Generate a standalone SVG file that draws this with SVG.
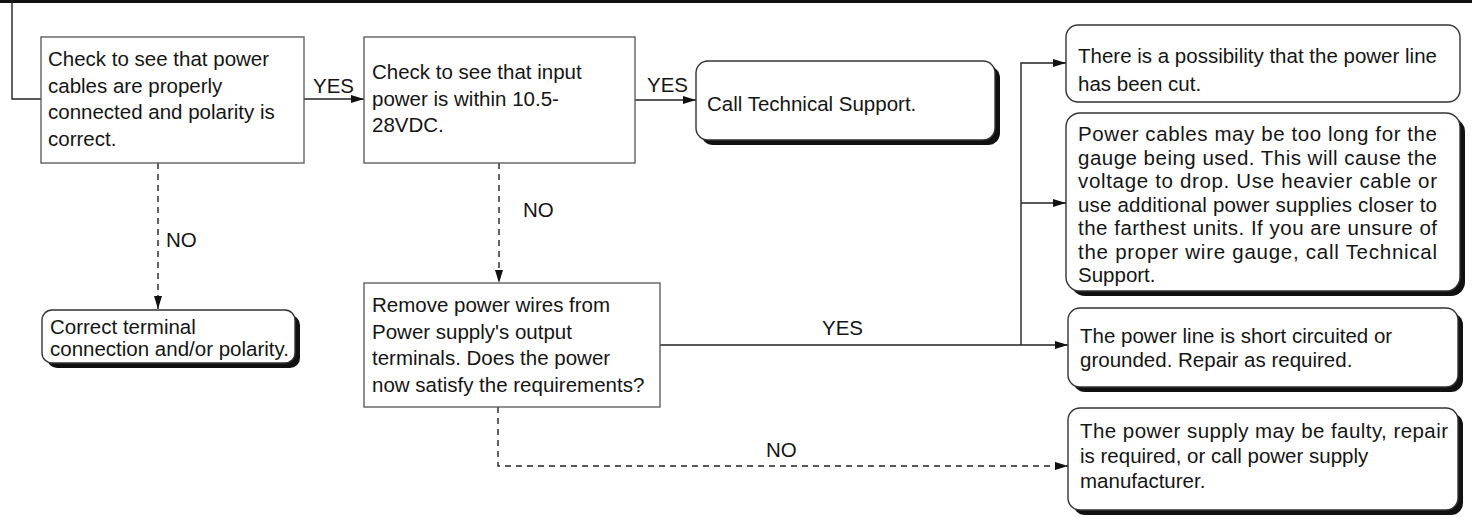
<svg xmlns="http://www.w3.org/2000/svg" width="1472" height="517" viewBox="0 0 1472 517">
<defs>
<marker id="arr" markerUnits="userSpaceOnUse" markerWidth="13" markerHeight="8" refX="13" refY="4" orient="auto">
<path d="M0,0 L13,4 L0,8 z" fill="#111"/>
</marker>
</defs>
<style>
text{font-family:"Liberation Sans",Arial,sans-serif;font-size:20.5px;fill:#151515}
.box{fill:#fff;stroke:#555;stroke-width:1.3}
.rbox{fill:#fff;stroke:#333;stroke-width:1.4}
.sh{fill:#111}
.ln{fill:none;stroke:#222;stroke-width:1.4}
.dash{fill:none;stroke:#222;stroke-width:1.4;stroke-dasharray:6 5}
</style>
<rect x="0" y="0" width="1472" height="3" fill="#111"/>
<g id="connectors">
<path class="ln" d="M12,0 V99 H41"/>
<path class="ln" d="M304,99 H364" marker-end="url(#arr)"/>
<text x="313" y="93">YES</text>
<path class="ln" d="M635,100 H696" marker-end="url(#arr)"/>
<text x="647" y="92">YES</text>
<path class="dash" d="M158,163 V309" marker-end="url(#arr)"/>
<text x="166" y="247">NO</text>
<path class="dash" d="M499,163 V283" marker-end="url(#arr)"/>
<text x="523" y="217">NO</text>
<path class="ln" d="M660,345 H1068" marker-end="url(#arr)"/>
<text x="822" y="335">YES</text>
<path class="ln" d="M1021,345 V63 H1066" marker-end="url(#arr)"/>
<path class="ln" d="M1021,203 H1066" marker-end="url(#arr)"/>
<path class="dash" d="M498,407 V466 H1068" marker-end="url(#arr)"/>
<text x="766" y="457">NO</text>
</g>
<g id="n1">
<rect class="box" x="41" y="37" width="263" height="126"/>
<text x="48" y="66">Check to see that power</text>
<text x="48" y="92.5">cables are properly</text>
<text x="48" y="119">connected and polarity is</text>
<text x="48" y="145.5">correct.</text>
</g>
<g id="n2">
<rect class="box" x="364" y="37" width="271" height="126"/>
<text x="372" y="79">Check to see that input</text>
<text x="372" y="105.5">power is within 10.5-</text>
<text x="372" y="132">28VDC.</text>
</g>
<g id="n3">
<rect class="sh" x="701" y="66" width="299" height="79" rx="12"/>
<rect class="rbox" x="696" y="61" width="299" height="79" rx="12"/>
<text x="707" y="111">Call Technical Support.</text>
</g>
<g id="n4">
<rect class="sh" x="47" y="315" width="253" height="53" rx="10"/>
<rect class="rbox" x="42" y="310" width="253" height="53" rx="10"/>
<text x="50" y="334">Correct terminal</text>
<text x="50" y="356">connection and/or polarity.</text>
</g>
<g id="n5">
<rect class="box" x="364" y="283" width="296" height="124"/>
<text x="372" y="312">Remove power wires from</text>
<text x="372" y="338.5">Power supply's output</text>
<text x="372" y="365">terminals. Does the power</text>
<text x="372" y="391.5">now satisfy the requirements?</text>
</g>
<g id="n6">
<rect class="rbox" x="1066" y="25" width="394" height="77" rx="12"/>
<text x="1078" y="63">There is a possibility that the power line</text>
<text x="1078" y="91">has been cut.</text>
</g>
<g id="n7">
<rect class="sh" x="1071" y="118" width="394" height="178" rx="14"/>
<rect class="rbox" x="1066" y="113" width="394" height="178" rx="14"/>
<text x="1078" y="141" textLength="359" lengthAdjust="spacing">Power cables may be too long for the</text>
<text x="1078" y="164.5" textLength="359" lengthAdjust="spacing">gauge being used. This will cause the</text>
<text x="1078" y="188" textLength="359" lengthAdjust="spacing">voltage to drop. Use heavier cable or</text>
<text x="1078" y="211.5" textLength="359" lengthAdjust="spacing">use additional power supplies closer to</text>
<text x="1078" y="235" textLength="359" lengthAdjust="spacing">the farthest units. If you are unsure of</text>
<text x="1078" y="258.5" textLength="359" lengthAdjust="spacing">the proper wire gauge, call Technical</text>
<text x="1078" y="282">Support.</text>
</g>
<g id="n8">
<rect class="sh" x="1073" y="313" width="390" height="79" rx="12"/>
<rect class="rbox" x="1068" y="308" width="390" height="79" rx="12"/>
<text x="1080" y="343">The power line is short circuited or</text>
<text x="1080" y="367">grounded. Repair as required.</text>
</g>
<g id="n9">
<rect class="sh" x="1073" y="413" width="390" height="102" rx="12"/>
<rect class="rbox" x="1068" y="408" width="390" height="102" rx="12"/>
<text x="1080" y="438" textLength="368" lengthAdjust="spacing">The power supply may be faulty, repair</text>
<text x="1080" y="463">is required, or call power supply</text>
<text x="1080" y="488">manufacturer.</text>
</g>
</svg>
